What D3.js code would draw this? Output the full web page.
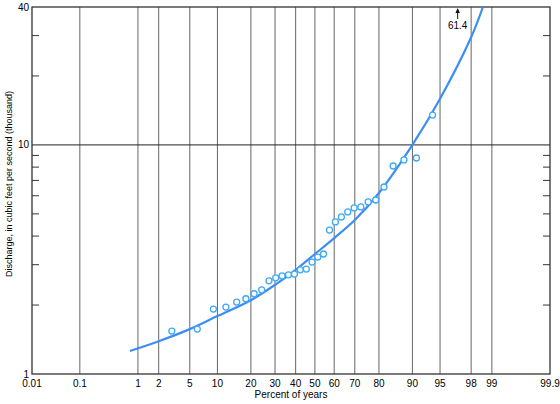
<!DOCTYPE html>
<html>
<head>
<meta charset="utf-8">
<script src="https://cdn.jsdelivr.net/npm/d3@7"></script>
<style>
  body { margin: 0; background: #fff; }
  svg text { font-family: "Liberation Sans", Arial, Helvetica, sans-serif; fill: #000; }
</style>
</head>
<body>
<div id="chart"></div>
<script>
// percent of years (plotting position) and peak discharge, thousand cfs
var pctYears = [3.0, 6.1, 9.1, 12.1, 15.2, 18.2, 21.2, 24.2, 27.3, 30.3, 33.3, 36.4, 39.4, 42.4, 45.5,
    48.5, 51.5, 54.5, 57.6, 60.6, 63.6, 66.7, 69.7, 72.7, 75.8, 78.8, 81.8, 84.8, 87.9, 90.9, 93.9]
var discharge = [1.54, 1.57, 1.92, 1.96, 2.06, 2.13, 2.24, 2.33, 2.55, 2.63, 2.68, 2.71, 2.73, 2.85, 2.87,
    3.08, 3.24, 3.34, 4.25, 4.61, 4.85, 5.10, 5.31, 5.36, 5.64, 5.75, 6.55, 8.09, 8.60, 8.77, 13.5]

// fitted frequency curve
var curvePct = [0.75, 2, 5, 10, 20, 30, 40, 50, 60, 70, 80, 90, 95, 98, 98.64]
var curveQ = [1.26, 1.39, 1.57, 1.79, 2.10, 2.45, 2.85, 3.34, 3.92, 4.70, 6.17, 10.0, 15.9, 29.5, 40]

var xTicks = [0.01, 0.1, 1, 2, 5, 10, 20, 30, 40, 50, 60, 70, 80, 90, 95, 98, 99, 99.9]
var yLabels = [1, 10, 40]
var yMinor = [2, 3, 4, 5, 6, 7, 8, 9, 20, 30]

var offPct = 96.97
var offLabel = "61.4"

var width = 560, height = 404
var plotL = 32, plotR = 550, plotT = 7, plotB = 374

// inverse normal cdf (Acklam)
function probit(p) {
    var a = [-39.69683028665376, 220.9460984245205, -275.9285104469687, 138.3577518672690, -30.66479806614716, 2.506628277459239]
    var b = [-54.47609879822406, 161.5858368580409, -155.6989798598866, 66.80131188771972, -13.28068155288572]
    var c = [-0.007784894002430293, -0.3223964580411365, -2.400758277161838, -2.549732539343734, 4.374664141464968, 2.938163982698783]
    var d = [0.007784695709041462, 0.3224671290700398, 2.445134137142996, 3.754408661907416]
    var q, r
    if (p < 0.02425) {
        q = Math.sqrt(-2 * Math.log(p))
        return (((((c[0]*q+c[1])*q+c[2])*q+c[3])*q+c[4])*q+c[5]) / ((((d[0]*q+d[1])*q+d[2])*q+d[3])*q+1)
    }
    if (p > 1 - 0.02425) {
        q = Math.sqrt(-2 * Math.log(1 - p))
        return -(((((c[0]*q+c[1])*q+c[2])*q+c[3])*q+c[4])*q+c[5]) / ((((d[0]*q+d[1])*q+d[2])*q+d[3])*q+1)
    }
    q = p - 0.5
    r = q * q
    return (((((a[0]*r+a[1])*r+a[2])*r+a[3])*r+a[4])*r+a[5])*q / (((((b[0]*r+b[1])*r+b[2])*r+b[3])*r+b[4])*r+1)
}

var zScale = d3.scaleLinear()
    .domain([probit(0.0001), probit(0.999)])
    .range([plotL, plotR])
var x = function (pct) { return zScale(probit(pct / 100)) }

var y = d3.scaleLog()
    .domain([1, 40])
    .range([plotB, plotT])

var svg = d3.select("#chart")
    .append("svg")
    .attr("width", width)
    .attr("height", height)

svg.append("defs").append("clipPath")
    .attr("id", "plotclip")
    .append("rect")
    .attr("x", plotL).attr("y", plotT)
    .attr("width", plotR - plotL).attr("height", plotB - plotT)

// vertical grid
svg.append("g").selectAll("line")
    .data(xTicks.slice(1, -1))
    .enter().append("line")
    .attr("x1", d => x(d)).attr("x2", d => x(d))
    .attr("y1", plotT).attr("y2", plotB)
    .attr("stroke", "#666")
    .attr("stroke-width", 1)

// horizontal line at 10
svg.append("line")
    .attr("x1", plotL).attr("x2", plotR)
    .attr("y1", y(10)).attr("y2", y(10))
    .attr("stroke", "#222")
    .attr("stroke-width", 1)

// minor y ticks, both sides, pointing in
var ticks = svg.append("g")
ticks.selectAll("line.l")
    .data(yMinor)
    .enter().append("line")
    .attr("class", "l")
    .attr("x1", plotL).attr("x2", plotL + 7)
    .attr("y1", d => y(d)).attr("y2", d => y(d))
    .attr("stroke", "#333")
ticks.selectAll("line.r")
    .data(yMinor)
    .enter().append("line")
    .attr("class", "r")
    .attr("x1", plotR - 7).attr("x2", plotR)
    .attr("y1", d => y(d)).attr("y2", d => y(d))
    .attr("stroke", "#333")

// frame
svg.append("rect")
    .attr("x", plotL).attr("y", plotT)
    .attr("width", plotR - plotL).attr("height", plotB - plotT)
    .attr("fill", "none")
    .attr("stroke", "#333")
    .attr("stroke-width", 1.3)

// frequency curve
var line = d3.line()
    .x((d, i) => x(d))
    .y((d, i) => y(curveQ[i]))
    .curve(d3.curveCatmullRom)

svg.append("path")
    .datum(curvePct)
    .attr("clip-path", "url(#plotclip)")
    .attr("d", line)
    .attr("fill", "none")
    .attr("stroke", "#3d8ef3")
    .attr("stroke-width", 2.2)

// observed points
svg.append("g").selectAll("circle")
    .data(pctYears)
    .enter().append("circle")
    .attr("cx", d => x(d))
    .attr("cy", (d, i) => y(discharge[i]))
    .attr("r", 3)
    .attr("fill", "#fff")
    .attr("stroke", "#3fa8f7")
    .attr("stroke-width", 1.3)

// off-scale annotation
var ax = x(offPct)
svg.append("line")
    .attr("x1", ax).attr("x2", ax)
    .attr("y1", plotT + 4).attr("y2", plotT + 12)
    .attr("stroke", "#111")
    .attr("stroke-width", 1)
svg.append("path")
    .attr("d", "M" + ax + "," + (plotT + 1) + "L" + (ax - 2.2) + "," + (plotT + 6) + "L" + (ax + 2.2) + "," + (plotT + 6) + "Z")
    .attr("fill", "#111")
svg.append("text")
    .attr("x", ax).attr("y", plotT + 22)
    .attr("text-anchor", "middle")
    .attr("font-size", 10)
    .text(offLabel)

// x tick labels
svg.append("g").selectAll("text")
    .data(xTicks)
    .enter().append("text")
    .attr("x", d => x(d))
    .attr("y", plotB + 13)
    .attr("text-anchor", "middle")
    .attr("font-size", 10)
    .text(d => d)

// y tick labels
svg.append("g").selectAll("text")
    .data(yLabels)
    .enter().append("text")
    .attr("x", plotL - 3)
    .attr("y", d => y(d))
    .attr("dy", "0.35em")
    .attr("text-anchor", "end")
    .attr("font-size", 10)
    .text(d => d)

svg.append("text")
    .attr("x", (plotL + plotR) / 2)
    .attr("y", plotB + 24)
    .attr("text-anchor", "middle")
    .attr("font-size", 10)
    .text("Percent of years")

svg.append("text")
    .attr("transform", "translate(12,184) rotate(-90)")
    .attr("text-anchor", "middle")
    .attr("font-size", 9)
    .text("Discharge, in cubic feet per second (thousand)")
</script>
</body>
</html>
